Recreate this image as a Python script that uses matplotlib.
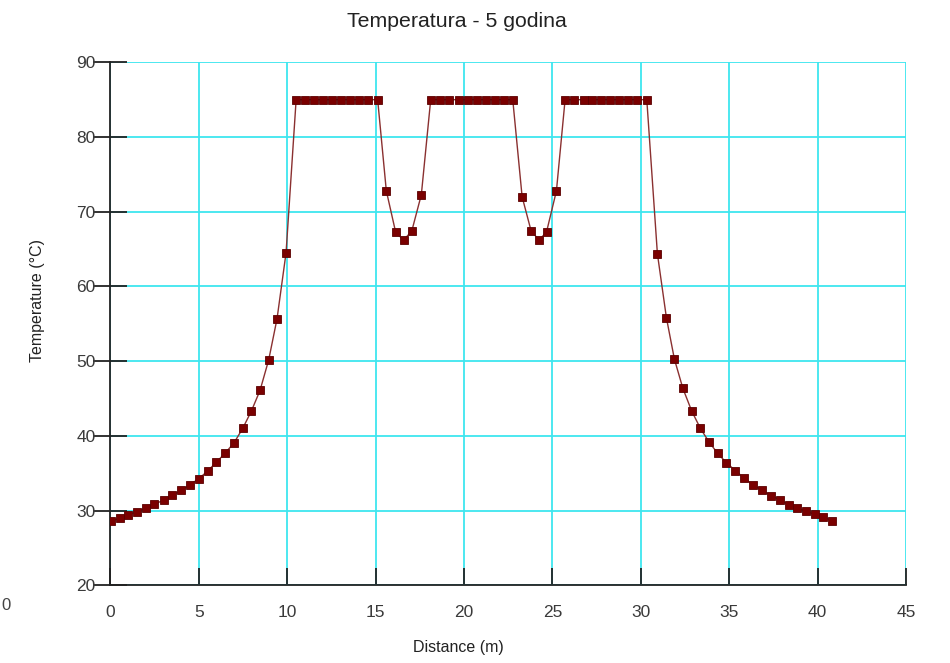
import matplotlib
matplotlib.use("Agg")
import matplotlib.pyplot as plt

plt.rcParams.update({"font.family": ["Liberation Sans", "DejaVu Sans"]})

# distance along the profile (m)
x_left = [0.04, 0.55, 1.02, 1.53, 2.02, 2.49, 3.02, 3.51, 4.02, 4.51, 5.00,
          5.51, 5.99, 6.50, 7.00, 7.49, 7.98, 8.47, 8.96, 9.43, 9.94]
t_left = [28.6, 29.0, 29.45, 29.85, 30.34, 30.84, 31.41, 32.04, 32.71, 33.46, 34.26,
          35.3, 36.46, 37.7, 39.08, 41.01, 43.33, 46.1, 50.19, 55.68, 64.51]

x_plat1 = [10.51, 11.01, 11.52, 12.03, 12.54, 13.05, 13.56, 14.07, 14.58, 15.12]
x_dip1 = [15.61, 16.14, 16.59, 17.05, 17.59]
t_dip1 = [72.8, 67.24, 66.21, 67.42, 72.28]
x_plat2 = [18.12, 18.65, 19.17, 19.71, 20.21, 20.74, 21.25, 21.74, 22.25, 22.76]
x_dip2 = [23.29, 23.8, 24.25, 24.67, 25.23]
t_dip2 = [72.0, 67.42, 66.21, 67.29, 72.8]
x_plat3 = [25.72, 26.23, 26.77, 27.26, 27.77, 28.28, 28.79, 29.3, 29.81, 30.34]
t_plateau = 85.0

x_right = [30.94, 31.45, 31.90, 32.38, 32.88, 33.37, 33.86, 34.35, 34.84, 35.35, 35.86,
           36.37, 36.88, 37.37, 37.88, 38.37, 38.86, 39.35, 39.84, 40.33, 40.84]
t_right = [64.38, 55.81, 50.29, 46.36, 43.33, 41.01, 39.18, 37.66, 36.41, 35.34, 34.32,
           33.38, 32.71, 31.99, 31.41, 30.78, 30.34, 29.9, 29.5, 29.1, 28.64]

x = x_left + x_plat1 + x_dip1 + x_plat2 + x_dip2 + x_plat3 + x_right
t = (t_left + [t_plateau] * len(x_plat1) + t_dip1 + [t_plateau] * len(x_plat2)
     + t_dip2 + [t_plateau] * len(x_plat3) + t_right)

fig = plt.figure(figsize=(9.5, 6.63), dpi=100)
ax = fig.add_axes([0.1161, 0.1172, 0.8376, 0.7888])

ax.plot(x, t, color="#8a3030", lw=1.0, marker="s", ms=5.5,
        mfc="#7a0000", mec="#5a0000", mew=0.6, zorder=3)

ax.set_xlim(0, 45)
ax.set_ylim(20, 90)
ax.set_xticks(range(0, 46, 5))
ax.set_yticks(range(20, 91, 10))
ax.grid(True, color="#3ee6ef", lw=1.3)
ax.set_axisbelow(True)

for s in ["top", "right"]:
    ax.spines[s].set_visible(False)
for s in ["left", "bottom"]:
    ax.spines[s].set_color("#222222")
    ax.spines[s].set_linewidth(1.3)

ax.tick_params(axis="x", direction="in", length=12, width=1.3, color="#222222",
               labelsize=12.5, labelcolor="#3a3a3a", pad=14)
ax.tick_params(axis="y", direction="inout", length=24, width=1.3, color="#222222",
               labelsize=12.5, labelcolor="#3a3a3a", pad=-1.5)

ax.set_xlabel("Distance (m)", fontsize=11.5, color="#222222")
ax.xaxis.set_label_coords(0.438, -0.105)
ax.set_ylabel("Temperature (°C)", fontsize=11.5, color="#222222")
ax.yaxis.set_label_coords(-0.082, 0.544)

fig.text(0.481, 0.968, "Temperatura - 5 godina", ha="center", va="center",
         fontsize=15.3, color="#222222")
fig.text(0.001, 0.087, "0", ha="left", va="center", fontsize=12, color="#444444")

fig.savefig("out.png", dpi=100)
